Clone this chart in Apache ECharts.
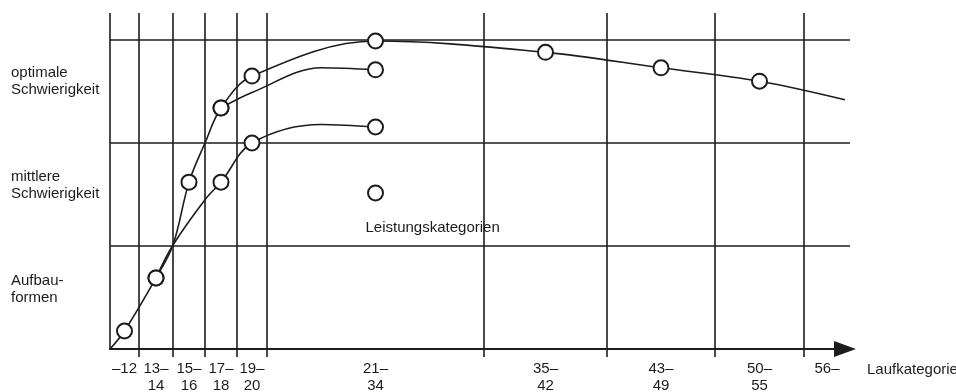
<!DOCTYPE html>
<html><head><meta charset="utf-8">
<script src="https://cdn.jsdelivr.net/npm/echarts@6/dist/echarts.min.js"></script>
<style>html,body{margin:0;padding:0;background:#fff}#c{width:956px;height:392px}</style>
</head><body><div id="c"></div>
<script>
// x categories (Laufkategorie) and the drawn width of each column (axis units)
const categories = ['–12', '13–\n14', '15–\n16', '17–\n18', '19–\n20', '21–\n34', '35–\n42', '43–\n49', '50–\n55', '56–'];
const columnWidths = [29, 34, 32, 32, 30, 217, 123, 108, 89, 46];
// y bands
const bandNames = ['Aufbau-\nformen', 'mittlere\nSchwierigkeit', 'optimale\nSchwierigkeit'];
const bandLabelAt = [0.58, 1.59, 2.60];
const bandLines = [1, 2, 3];
const yTop = 3.262;
// curves: position in category units (k = left edge of column k, k+0.5 = column centre)
const curveAPos = [0, 0.5, 1.5, 2, 2.5, 3, 3.5, 4.5, 5.5, 6.5, 7.5, 8.5, 9.89];
const curveAVal = [0, 0.175, 0.69, 1.01, 1.62, 2.0, 2.34, 2.65, 2.99, 2.88, 2.73, 2.60, 2.42];
const curveAMark = [0, 1, 1, 0, 1, 0, 1, 1, 1, 1, 1, 1, 0];
const curveBPos = [3.5, 4.5, 5.25, 5.5];
const curveBVal = [2.34, 2.49, 2.73, 2.71];
const curveBMark = [1, 0, 0, 1];
const curveCPos = [1.5, 2, 3, 3.5, 4.5, 5.25, 5.5];
const curveCVal = [0.69, 1.01, 1.45, 1.62, 2.0, 2.18, 2.155];
const curveCMark = [1, 0, 0, 1, 1, 0, 1];
const singlePos = [5.5];
const singleVal = [1.515];
const singleLabel = 'Leistungskategorien';
const axisName = 'Laufkategorie';

const INK = '#1c1c1c';
const FONT = 'Liberation Sans, Arial, Helvetica, sans-serif';

const edges = [0];
columnWidths.forEach(w => edges.push(edges[edges.length - 1] + w));
const centers = columnWidths.map((w, i) => edges[i] + w / 2);
function posToX(p) {
  const k = Math.min(Math.floor(p), columnWidths.length - 1);
  return edges[k] + (p - k) * columnWidths[k];
}
function pts(pos, val) { return pos.map((p, i) => [posToX(p), val[i]]); }

const markerData = [];
[[curveAPos, curveAVal, curveAMark], [curveBPos, curveBVal, curveBMark], [curveCPos, curveCVal, curveCMark]]
  .forEach(([p, v, m]) => p.forEach((q, i) => { if (m[i]) markerData.push({ value: [posToX(q), v[i]] }); }));
singlePos.forEach((q, i) => markerData.push({
  value: [posToX(q), singleVal[i]],
  label: { show: true, formatter: singleLabel, position: 'bottom', distance: 19, align: 'left', offset: [-10, 0],
           fontSize: 15, fontFamily: FONT, color: INK, lineHeight: 15 }
}));

const gridLines = [];
edges.slice(0, edges.length - 1).forEach(x => gridLines.push([{ coord: [x, 0] }, { coord: [x, yTop] }]));
bandLines.forEach(y => gridLines.push([{ coord: [0, y] }, { coord: [edges[edges.length - 1], y] }]));

const lineStyleCurve = { color: INK, width: 1.6 };
function curve(pos, val) {
  return { type: 'line', data: pts(pos, val), smooth: 0.35, showSymbol: false, symbol: 'none',
           lineStyle: lineStyleCurve, z: 3, silent: true };
}

const chart = echarts.init(document.getElementById('c'), null, { renderer: 'canvas' });
chart.setOption({
  animation: false,
  backgroundColor: '#fff',
  grid: { left: 110, right: 106, top: 13, bottom: 43, containLabel: false, outerBoundsMode: 'none' },
  xAxis: {
    type: 'value', min: 0, max: edges[edges.length - 1],
    name: axisName, nameLocation: 'end', nameGap: 17,
    nameTextStyle: { fontSize: 15, fontFamily: FONT, color: INK, align: 'left', verticalAlign: 'top', padding: [12, 0, 0, 0], lineHeight: 17 },
    axisLine: { show: true, onZero: true, symbol: ['none', 'triangle'], symbolSize: [16, 22], symbolOffset: [0, -5],
                lineStyle: { color: INK, width: 2.2 } },
    axisTick: { show: true, inside: false, length: 8, customValues: edges.slice(1, edges.length - 1),
                lineStyle: { color: INK, width: 1.6 } },
    axisLabel: { customValues: centers, margin: 11, fontSize: 15, lineHeight: 17, fontFamily: FONT, color: INK,
                 formatter: v => { const i = centers.findIndex(c => Math.abs(c - v) < 1e-6); return i >= 0 ? categories[i] : ''; } },
    splitLine: { show: false }
  },
  yAxis: {
    type: 'value', min: 0, max: yTop,
    axisLine: { show: false }, axisTick: { show: false }, splitLine: { show: false },
    axisLabel: { customValues: bandLabelAt, align: 'left', margin: 99, fontSize: 15, lineHeight: 17, fontFamily: FONT, color: INK,
                 formatter: v => { const i = bandLabelAt.findIndex(c => Math.abs(c - v) < 1e-6); return i >= 0 ? bandNames[i] : ''; } }
  },
  series: [
    { type: 'line', data: [], z: 1, silent: true,
      markLine: { silent: true, symbol: ['none', 'none'], label: { show: false }, animation: false,
                  lineStyle: { type: 'solid', color: INK, width: 1.6 }, emphasis: { disabled: true }, data: gridLines } },
    curve(curveAPos, curveAVal),
    curve(curveBPos, curveBVal),
    curve(curveCPos, curveCVal),
    { type: 'scatter', data: markerData, symbol: 'circle', symbolSize: 15, z: 5, silent: true,
      itemStyle: { color: '#fff', borderColor: INK, borderWidth: 2, opacity: 1 } }
  ]
});
</script></body></html>
